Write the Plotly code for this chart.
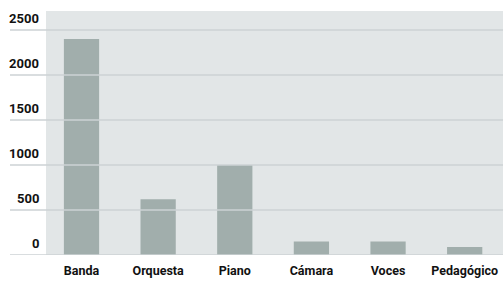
import plotly.graph_objects as go

categories = ["Banda", "Orquesta", "Piano", "Cámara", "Voces", "Pedagógico"]
values = [2400, 620, 1000, 150, 150, 90]
y_ticks = [0, 500, 1000, 1500, 2000, 2500]
y_tick_labels = ["0", "500", "1000", "1500", "2000", "2500"]

FONT = "Roboto, Liberation Sans, sans-serif"
BG = "#e2e6e7"
GRID = "#cdd2d4"
BAR = "#a1aeac"

fig = go.Figure(go.Bar(x=categories, y=values, marker_color=BAR, marker_line_width=0,
                       hoverinfo="skip"))

shapes = [dict(type="rect", xref="paper", yref="paper", x0=0.073, x1=1, y0=0, y1=1,
               fillcolor=BG, line_width=0, layer="below")]
for t in y_ticks:
    shapes.append(dict(type="line", xref="paper", yref="y", x0=0, x1=1, y0=t, y1=t,
                       line=dict(color=GRID, width=1.6), layer="above"))

annotations = [dict(xref="paper", yref="y", x=0.058, y=t, text=f"<b>{lab}</b>",
                    showarrow=False, xanchor="right", yanchor="bottom", yshift=2,
                    xshift=2,
                    font=dict(family=FONT, size=13, color="#111111"))
               for t, lab in zip(y_ticks, y_tick_labels)]

fig.update_layout(
    width=503, height=284,
    margin=dict(l=10, r=0, t=11, b=29),
    paper_bgcolor="white", plot_bgcolor="white",
    bargap=0.54,
    showlegend=False,
    shapes=shapes,
    annotations=annotations,
    xaxis=dict(range=[-0.933, 5.5], showgrid=False, zeroline=False, showline=False,
               automargin=False,
               ticks="", tickfont=dict(family=FONT, size=12.5, color="#111111"),
               ticklabelstandoff=6,
               tickvals=categories, ticktext=[f"<b>{c}</b>" for c in categories]),
    yaxis=dict(range=[0, 2711], showgrid=False, zeroline=False, showline=False,
               automargin=False,
               showticklabels=False, ticks=""),
)

fig.write_html("out.html", config={"displayModeBar": False},
               post_script="document.body.style.margin='0';")
